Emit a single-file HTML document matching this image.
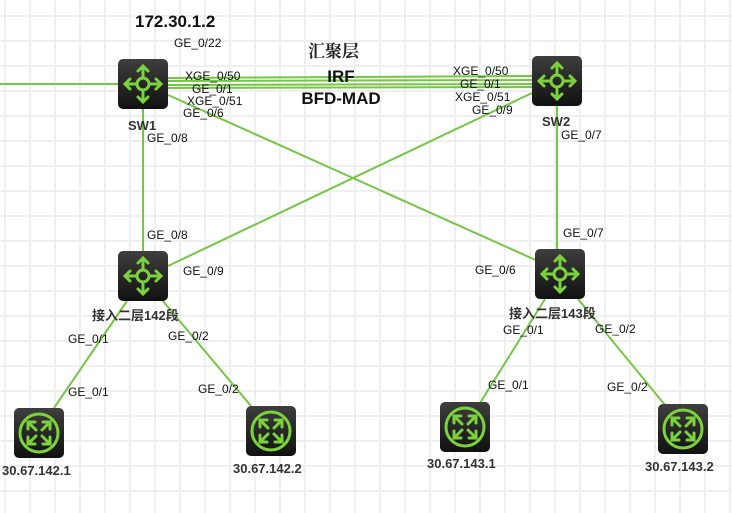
<!DOCTYPE html>
<html><head><meta charset="utf-8"><style>
html,body{margin:0;padding:0}
body{width:732px;height:513px;overflow:hidden;background-color:#fff;
background-image:linear-gradient(90deg,#efefef 2px,transparent 2px),linear-gradient(#efefef 2px,transparent 2px);
background-size:25px 25px;background-position:4px 15px;}
svg{position:absolute;left:0;top:0}
text{font-family:"Liberation Sans","Noto Sans CJK SC",sans-serif}
.l{font-size:12px;fill:#111}
.n{font-size:13px;font-weight:bold;fill:#333}
</style></head><body>
<svg width="732" height="513" viewBox="0 0 732 513">
<defs>
<linearGradient id="g" x1="0" y1="0" x2="0" y2="1"><stop offset="0" stop-color="#3e3e3e"/><stop offset="1" stop-color="#111"/></linearGradient>
<g id="sw">
<rect x="0" y="0" width="50" height="50" rx="5" fill="url(#g)"/>
<g stroke="#7bd23a" stroke-width="3" fill="none" stroke-linecap="round">
<circle cx="25" cy="25" r="6"/>
<line x1="25" y1="19" x2="25" y2="8"/><line x1="25" y1="31" x2="25" y2="42"/>
<line x1="19" y1="25" x2="8" y2="25"/><line x1="31" y1="25" x2="42" y2="25"/>
<polyline points="20,12 25,7 30,12"/><polyline points="20,38 25,43 30,38"/>
<polyline points="12,20 7,25 12,30"/><polyline points="38,20 43,25 38,30"/>
</g></g>
<g id="rt">
<rect x="0" y="0" width="50" height="50" rx="5" fill="url(#g)"/>
<g stroke="#7bd23a" stroke-width="3" fill="none" stroke-linecap="round">
<circle cx="25" cy="25" r="19"/>
<path d="M22 22 L15 15 M28 22 L35 15 M22 28 L15 35 M28 28 L35 35"/>
<polyline points="14,21 14,14 21,14"/><polyline points="29,14 36,14 36,21"/>
<polyline points="14,29 14,36 21,36"/><polyline points="29,36 36,36 36,29"/>
</g></g>
</defs>
<g stroke="#74c644" stroke-width="2" fill="none">
<line x1="0" y1="84" x2="120" y2="84"/>
<line x1="168" y1="78" x2="532" y2="76"/>
<line x1="168" y1="81" x2="532" y2="80"/>
<line x1="168" y1="85" x2="532" y2="84"/>
<line x1="168" y1="88" x2="532" y2="87"/>
<line x1="168" y1="95" x2="540" y2="262"/>
<line x1="532" y1="93" x2="168" y2="266"/>
<line x1="143" y1="109" x2="143" y2="251"/>
<line x1="557" y1="106" x2="557" y2="249"/>
<line x1="127" y1="301" x2="54" y2="408"/>
<line x1="162" y1="300" x2="251" y2="406"/>
<line x1="545" y1="299" x2="480" y2="403"/>
<line x1="578" y1="299" x2="665" y2="405"/>
</g>
<use href="#sw" x="118" y="59"/>
<use href="#sw" x="532" y="56"/>
<use href="#sw" x="118" y="251"/>
<use href="#sw" x="535" y="249"/>
<use href="#rt" x="14" y="408"/>
<use href="#rt" x="246" y="406"/>
<use href="#rt" x="440" y="402"/>
<use href="#rt" x="658" y="404"/>
<text x="135" y="27" style="font-size:17px;font-weight:bold;fill:#111">172.30.1.2</text>
<text x="174" y="47" class="l">GE_0/22</text>
<text x="308" y="57" style="font-size:17px;font-family:'Noto Serif CJK SC',serif;font-weight:bold;fill:#222">汇聚层</text>
<text x="341" y="82" text-anchor="middle" style="font-size:17px;font-weight:bold;fill:#111">IRF</text>
<text x="341" y="104" text-anchor="middle" style="font-size:17px;font-weight:bold;fill:#111">BFD-MAD</text>
<text x="185" y="80" class="l">XGE_0/50</text>
<text x="192" y="93" class="l">GE_0/1</text>
<text x="187" y="105" class="l">XGE_0/51</text>
<text x="183" y="117" class="l">GE_0/6</text>
<text x="453" y="75" class="l">XGE_0/50</text>
<text x="460" y="88" class="l">GE_0/1</text>
<text x="455" y="101" class="l">XGE_0/51</text>
<text x="472" y="114" class="l">GE_0/9</text>
<text x="128" y="130" class="n">SW1</text>
<text x="542" y="126" class="n">SW2</text>
<text x="147" y="142" class="l">GE_0/8</text>
<text x="561" y="139" class="l">GE_0/7</text>
<text x="147" y="239" class="l">GE_0/8</text>
<text x="183" y="275" class="l">GE_0/9</text>
<text x="563" y="237" class="l">GE_0/7</text>
<text x="475" y="274" class="l">GE_0/6</text>
<text x="92" y="320" class="n">接入二层142段</text>
<text x="509" y="318" class="n">接入二层143段</text>
<text x="68" y="343" class="l">GE_0/1</text>
<text x="168" y="340" class="l">GE_0/2</text>
<text x="68" y="396" class="l">GE_0/1</text>
<text x="198" y="393" class="l">GE_0/2</text>
<text x="503" y="334" class="l">GE_0/1</text>
<text x="595" y="333" class="l">GE_0/2</text>
<text x="488" y="389" class="l">GE_0/1</text>
<text x="607" y="391" class="l">GE_0/2</text>
<text x="2" y="475" class="n">30.67.142.1</text>
<text x="233" y="473" class="n">30.67.142.2</text>
<text x="427" y="468" class="n">30.67.143.1</text>
<text x="645" y="471" class="n">30.67.143.2</text>
</svg>
</body></html>
